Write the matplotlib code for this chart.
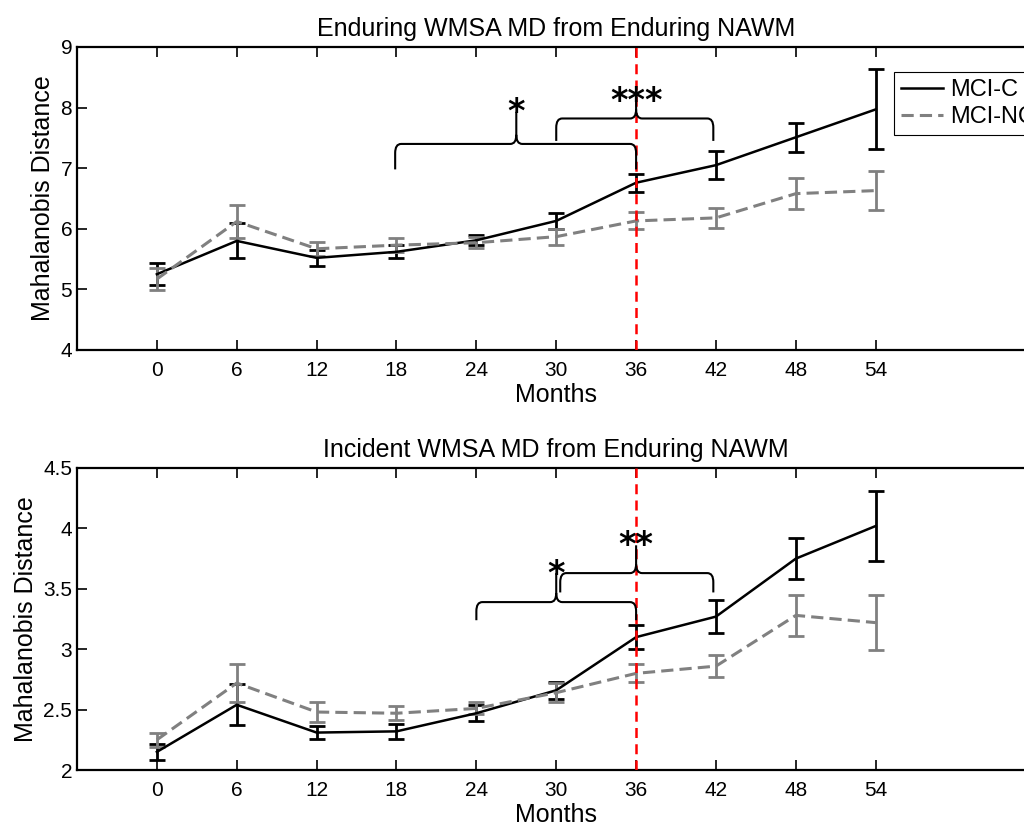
import matplotlib
matplotlib.use("Agg")
import matplotlib.pyplot as plt
from matplotlib.path import Path
from matplotlib.patches import PathPatch
from matplotlib.lines import Line2D
from matplotlib.ticker import FormatStrFormatter
import numpy as np

plt.rcParams.update({
    "font.family": ["Liberation Sans", "DejaVu Sans"],
    "font.size": 15,
    "xtick.direction": "in",
    "ytick.direction": "in",
    "xtick.major.size": 7,
    "ytick.major.size": 7,
    "xtick.major.width": 1.2,
    "ytick.major.width": 1.2,
    "xtick.major.pad": 8,
    "axes.linewidth": 1.6,
})

months = [0, 6, 12, 18, 24, 30, 36, 42, 48, 54]

# top panel: Enduring WMSA MD
top_c = [5.25, 5.80, 5.52, 5.62, 5.81, 6.13, 6.76, 7.05, 7.51, 7.97]
top_c_err = [0.18, 0.29, 0.13, 0.11, 0.08, 0.13, 0.15, 0.23, 0.24, 0.66]
top_nc = [5.17, 6.12, 5.67, 5.73, 5.77, 5.87, 6.13, 6.18, 6.58, 6.63]
top_nc_err = [0.18, 0.28, 0.12, 0.11, 0.09, 0.13, 0.14, 0.16, 0.25, 0.32]

# bottom panel: Incident WMSA MD
bot_c = [2.15, 2.54, 2.31, 2.32, 2.47, 2.66, 3.10, 3.27, 3.75, 4.02]
bot_c_err = [0.065, 0.17, 0.055, 0.06, 0.065, 0.07, 0.10, 0.135, 0.17, 0.29]
bot_nc = [2.25, 2.72, 2.48, 2.47, 2.51, 2.64, 2.80, 2.86, 3.28, 3.22]
bot_nc_err = [0.06, 0.16, 0.085, 0.06, 0.05, 0.08, 0.075, 0.09, 0.17, 0.23]

# significance braces: (x_left, x_right, x_mid, y_bar, y_end, y_peak, y_star, label)
top_braces = [(17.9, 36.0, 27, 7.40, 6.98, 7.93, 8.09, "*"),
              (30.0, 41.8, 36, 7.82, 7.45, 8.10, 8.26, "***")]
bot_braces = [(24.0, 36.0, 30, 3.39, 3.24, 3.63, 3.70, "*"),
              (30.3, 41.8, 36, 3.63, 3.47, 3.86, 3.94, "**")]

BLACK = "black"
GRAY = "#808080"


def draw_brace(ax, x0, x1, xm, yh, yend, ypk, rx, ry):
    verts = [(x0, yend), (x0, yh - ry), (x0, yh), (x0 + rx, yh),
             (xm - rx, yh), (xm, yh), (xm, yh + ry), (xm, ypk),
             (xm, yh + ry), (xm, yh), (xm + rx, yh),
             (x1 - rx, yh), (x1, yh), (x1, yh - ry), (x1, yend)]
    codes = [Path.MOVETO, Path.LINETO, Path.CURVE3, Path.CURVE3,
             Path.LINETO, Path.CURVE3, Path.CURVE3, Path.LINETO,
             Path.MOVETO, Path.CURVE3, Path.CURVE3,
             Path.LINETO, Path.CURVE3, Path.CURVE3, Path.LINETO]
    ax.add_patch(PathPatch(Path(verts, codes), fill=False, lw=1.5,
                           edgecolor="black", zorder=5))


def panel(ax, c, c_err, nc, nc_err, braces, ylim, yticks, title):
    ax.errorbar(months, c, yerr=c_err, color=BLACK, lw=1.8, elinewidth=2.0,
                capsize=6, capthick=2.0, label="MCI-C", zorder=3)
    ax.errorbar(months, nc, yerr=nc_err, color=GRAY, lw=2.2, ls=(0, (4, 2)),
                elinewidth=2.0, capsize=6, capthick=2.0, label="MCI-NC", zorder=3)
    ax.axvline(36, color="red", lw=1.8, ls=(0, (4, 2.5)), zorder=4)
    ry = 0.03 * (ylim[1] - ylim[0])
    for x0, x1, xm, yh, yend, ypk, ystar, lab in braces:
        draw_brace(ax, x0, x1, xm, yh, yend, ypk, 0.45, ry)
        ax.annotate(lab, xy=(xm, ystar), xytext=(0, -14), textcoords="offset points",
                    ha="center", va="baseline", fontsize=24, fontweight="bold",
                    family="DejaVu Sans", zorder=6)
    ax.set_xlim(-6, 66)
    ax.set_ylim(*ylim)
    ax.set_xticks(months)
    ax.set_yticks(yticks)
    ax.yaxis.set_major_formatter(FormatStrFormatter("%g"))
    ax.tick_params(top=True, right=True, labelsize=15)
    ax.set_xlabel("Months", fontsize=18, labelpad=2)
    ax.set_ylabel("Mahalanobis Distance", fontsize=18)
    ax.set_title(title, fontsize=18, pad=8)


fig = plt.figure(figsize=(10.24, 8.27), dpi=100)
ax1 = fig.add_axes([0.0752, 0.5768, 0.936, 0.3664])
ax2 = fig.add_axes([0.0752, 0.0689, 0.936, 0.3652])

panel(ax1, top_c, top_c_err, top_nc, top_nc_err, top_braces,
      (4, 9), [4, 5, 6, 7, 8, 9], "Enduring WMSA MD from Enduring NAWM")
panel(ax2, bot_c, bot_c_err, bot_nc, bot_nc_err, bot_braces,
      (2, 4.5), [2, 2.5, 3, 3.5, 4, 4.5], "Incident WMSA MD from Enduring NAWM")

handles = [Line2D([], [], color=BLACK, lw=1.8),
           Line2D([], [], color=GRAY, lw=2.2, ls=(0, (4, 2)))]
leg = ax1.legend(handles, ["MCI-C", "MCI-NC"], loc="upper left",
                 bbox_to_anchor=(0.852, 0.917), fontsize=17, fancybox=False,
                 framealpha=1, edgecolor="black", borderpad=0.3,
                 handlelength=1.8, labelspacing=0.2, handletextpad=0.3,
                 borderaxespad=0)
leg.get_frame().set_linewidth(0.8)

fig.savefig("out.png", dpi=100)
